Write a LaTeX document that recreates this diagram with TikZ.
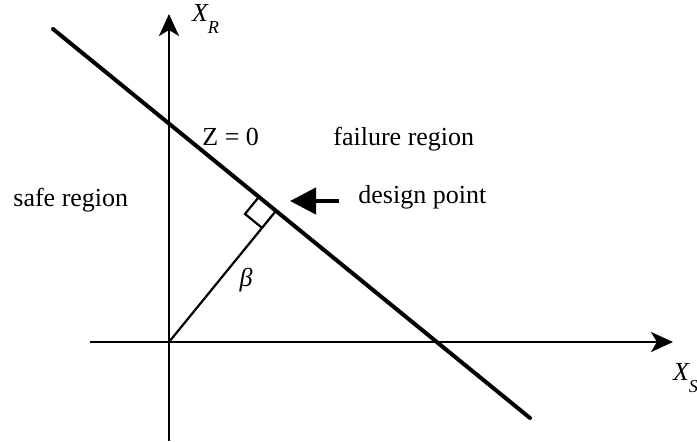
\documentclass[tikz,border=0pt]{standalone}
\usepackage{fontspec}
\setmainfont{Liberation Serif}
\usetikzlibrary{arrows.meta,calc}
\begin{document}
\begin{tikzpicture}[x=0.5pt,y=-0.5pt,
  axis/.style={line width=1.3pt,-{Stealth[length=11pt,width=10pt,inset=3pt]}},
  limit/.style={line width=2pt},
  thin/.style={line width=1.1pt},
  lbl/.style={font=\fontsize{13}{15}\selectfont,inner sep=0pt},
  bigarrow/.style={line width=2.2pt,-{Triangle[length=13pt,width=13pt]}}]
\useasboundingbox (0,0) rectangle (697,441);
% axes
\coordinate (O) at (169,342);
\coordinate (ybot) at (169,441);
\coordinate (ytop) at (169,14);
\coordinate (xl) at (90,342);
\coordinate (xr) at (673,342);
\draw[axis] (ybot) -- (ytop);
\draw[axis] (xl) -- (xr);
% limit state line
\coordinate (A) at (53,29);
\coordinate (B) at (530,418);
\draw[limit,line cap=round] (A) -- (B);
% perpendicular
\coordinate (F) at ($(A)!(O)!(B)$);
\draw[thin] (O) -- (F);
\coordinate (S1) at ($(F)!11pt!(O)$);
\coordinate (S2) at ($(F)!11pt!(A)$);
\coordinate (S3) at ($(S1)+(S2)-(F)$);
\draw[thin] (S1) -- (S3) -- (S2);
% labels
\node[lbl,anchor=base west] (safe) at (13,206) {safe region};
\node[lbl,anchor=base west] (z) at (202,145) {Z = 0};
\node[lbl,anchor=base west] (fail) at (333,145) {failure region};
\node[lbl,anchor=base west] (dp) at (358,203) {design point};
\node[lbl] (beta) at (246,280) {\itshape β};
\node[lbl] (xR) at (206,19) {\itshape X\textsubscript{\raisebox{-1.1ex}{\itshape R}}};
\node[lbl] (xS) at (686,378) {\itshape X\textsubscript{\raisebox{-1.1ex}{\itshape S}}};
% design point arrow
\coordinate (dptail) at (339,201);
\coordinate (dptip) at (290,201);
\draw[bigarrow] (dptail) -- (dptip);
\end{tikzpicture}
\end{document}
